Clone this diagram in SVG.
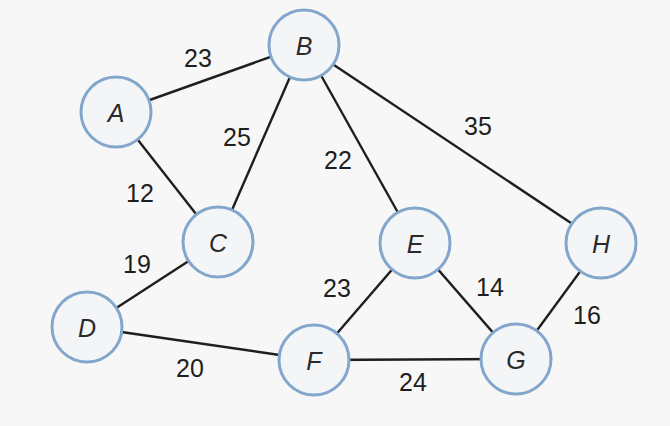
<svg xmlns="http://www.w3.org/2000/svg" width="670" height="426" viewBox="0 0 670 426">
<style>
.edge{stroke:#1e1e1e;stroke-width:2.4;fill:none}
.node circle{fill:#f4f5f7;stroke:#82a6cc;stroke-width:3}
.node text{font-family:"Liberation Sans",Arial,sans-serif;font-style:italic;font-size:25px;fill:#2a2a2a;text-anchor:middle;dominant-baseline:central}
.lbl{font-family:"Liberation Sans",Arial,sans-serif;font-size:25px;fill:#1e1e1e;text-anchor:middle;dominant-baseline:central}
</style>
<rect width="670" height="426" fill="#f7f7f7"/>
<g id="connectors">
<line class="edge" x1="116" y1="112" x2="304" y2="45"/>
<line class="edge" x1="116" y1="112" x2="218" y2="242"/>
<line class="edge" x1="304" y1="45" x2="218" y2="242"/>
<line class="edge" x1="304" y1="45" x2="415" y2="243"/>
<line class="edge" x1="304" y1="45" x2="601" y2="243"/>
<line class="edge" x1="218" y1="242" x2="87" y2="327"/>
<line class="edge" x1="87" y1="327" x2="314" y2="360"/>
<line class="edge" x1="415" y1="243" x2="314" y2="360"/>
<line class="edge" x1="415" y1="243" x2="516" y2="359"/>
<line class="edge" x1="314" y1="360" x2="516" y2="359"/>
<line class="edge" x1="516" y1="359" x2="601" y2="243"/>
<text class="lbl" x="198" y="58">23</text>
<text class="lbl" x="237" y="137">25</text>
<text class="lbl" x="338" y="160">22</text>
<text class="lbl" x="140" y="193">12</text>
<text class="lbl" x="478" y="126">35</text>
<text class="lbl" x="137" y="264">19</text>
<text class="lbl" x="337" y="288">23</text>
<text class="lbl" x="490" y="287">14</text>
<text class="lbl" x="587" y="315">16</text>
<text class="lbl" x="190" y="368">20</text>
<text class="lbl" x="413" y="382">24</text>
</g>
<g id="A" class="node"><circle cx="116" cy="112" r="35"/><text x="116" y="113">A</text></g>
<g id="B" class="node"><circle cx="304" cy="45" r="35"/><text x="304" y="46">B</text></g>
<g id="C" class="node"><circle cx="218" cy="242" r="35"/><text x="218" y="243">C</text></g>
<g id="D" class="node"><circle cx="87" cy="327" r="35"/><text x="87" y="328">D</text></g>
<g id="E" class="node"><circle cx="415" cy="243" r="35"/><text x="415" y="244">E</text></g>
<g id="F" class="node"><circle cx="314" cy="360" r="35"/><text x="314" y="361">F</text></g>
<g id="G" class="node"><circle cx="516" cy="359" r="35"/><text x="516" y="360">G</text></g>
<g id="H" class="node"><circle cx="601" cy="243" r="35"/><text x="601" y="244">H</text></g>
</svg>
